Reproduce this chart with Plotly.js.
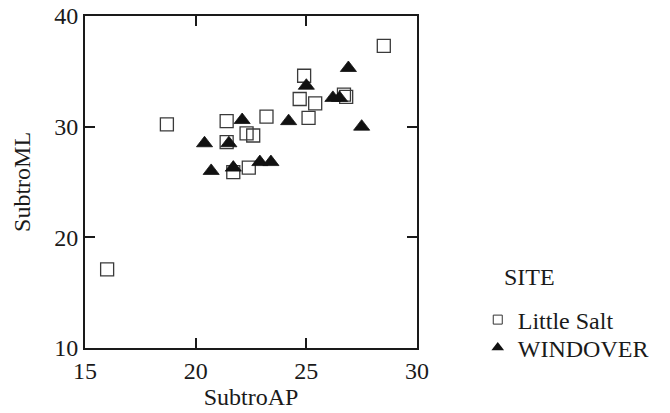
<!DOCTYPE html>
<html>
<head>
<meta charset="utf-8">
<script src="https://cdn.plot.ly/plotly-3.0.1.min.js"></script>
<style>html,body{margin:0;padding:0;background:#fff;}#chart{width:670px;height:413px;}</style>
</head>
<body>
<div id="chart"></div>
<script>
// Little Salt
const saltAP = [28.5, 24.9, 24.7, 25.4, 26.7, 26.8, 25.1, 23.2, 21.4, 18.7, 22.3, 22.6, 21.4, 21.7, 22.4, 16.0];
const saltML = [37.3, 34.6, 32.5, 32.1, 32.9, 32.7, 30.8, 30.9, 30.5, 30.2, 29.4, 29.2, 28.6, 25.9, 26.3, 17.1];
// WINDOVER
const windAP = [26.9, 25.0, 26.2, 26.5, 22.1, 24.2, 27.5, 20.4, 21.5, 20.7, 21.7, 22.9, 23.4];
const windML = [35.3, 33.7, 32.6, 32.6, 30.6, 30.5, 30.0, 28.5, 28.5, 26.0, 26.3, 26.8, 26.8];
const siteNames = ['Little Salt', 'WINDOVER'];
const legendTitle = 'SITE';
const xTitle = 'SubtroAP';
const yTitle = 'SubtroML';

const serif = "'Liberation Serif', 'Times New Roman', Times, serif";
const traces = [
  {x: saltAP, y: saltML, mode: 'markers', type: 'scatter', showlegend: false, hoverinfo: 'x+y',
   marker: {symbol: 'square-open', size: 13, color: '#3a3a3a', line: {width: 1.3, color: '#3a3a3a'}}},
  {x: windAP, y: windML, mode: 'markers', type: 'scatter', showlegend: false, hoverinfo: 'x+y',
   marker: {symbol: 'triangle-up', size: 14, color: '#111', line: {width: 0.8, color: '#111'}}},
  {x: [null], y: [null], mode: 'markers', type: 'scatter', name: siteNames[0], legend: 'legend',
   marker: {symbol: 'square-open', size: 9, color: '#333', line: {width: 1}}},
  {x: [null], y: [null], mode: 'markers', type: 'scatter', name: siteNames[1], legend: 'legend2',
   marker: {symbol: 'triangle-up', size: 11, color: '#111'}}
];
const axisCommon = {
  showline: true, linewidth: 2, linecolor: '#1a1a1a', mirror: 'ticks',
  ticks: 'inside', ticklen: 10, tickwidth: 2, tickcolor: '#1a1a1a',
  showgrid: false, zeroline: false,
  tickfont: {family: serif, size: 24, color: '#1a1a1a'}
};
const legendCommon = {xanchor: 'left', yanchor: 'middle',
  font: {family: serif, size: 24, color: '#1a1a1a'}, bgcolor: 'rgba(0,0,0,0)', borderwidth: 0};
const layout = {
  width: 670, height: 413,
  margin: {l: 85, r: 253, t: 16, b: 65},
  paper_bgcolor: '#fff', plot_bgcolor: '#fff',
  font: {family: serif, color: '#1a1a1a'},
  xaxis: Object.assign({}, axisCommon, {range: [15, 30], tickvals: [15, 20, 25, 30],
    title: {text: xTitle, font: {family: serif, size: 24}, standoff: 4}}),
  yaxis: Object.assign({}, axisCommon, {range: [10, 40], tickvals: [10, 20, 30, 40]}),
  legend: Object.assign({}, legendCommon, {x: 1.183, y: 0.0843}),
  legend2: Object.assign({}, legendCommon, {x: 1.183, y: 0.0}),
  annotations: [
    {text: legendTitle, xref: 'paper', yref: 'paper', x: 1.256, y: 0.2148,
     xanchor: 'left', yanchor: 'middle', showarrow: false, font: {family: serif, size: 24, color: '#1a1a1a'}},
    {text: yTitle, xref: 'paper', yref: 'paper', x: -0.19, y: 0.5, textangle: -90,
     xanchor: 'center', yanchor: 'middle', showarrow: false, font: {family: serif, size: 24, color: '#1a1a1a'}}
  ]
};
Plotly.newPlot('chart', traces, layout, {displayModeBar: false, staticPlot: true});
</script>
</body>
</html>
